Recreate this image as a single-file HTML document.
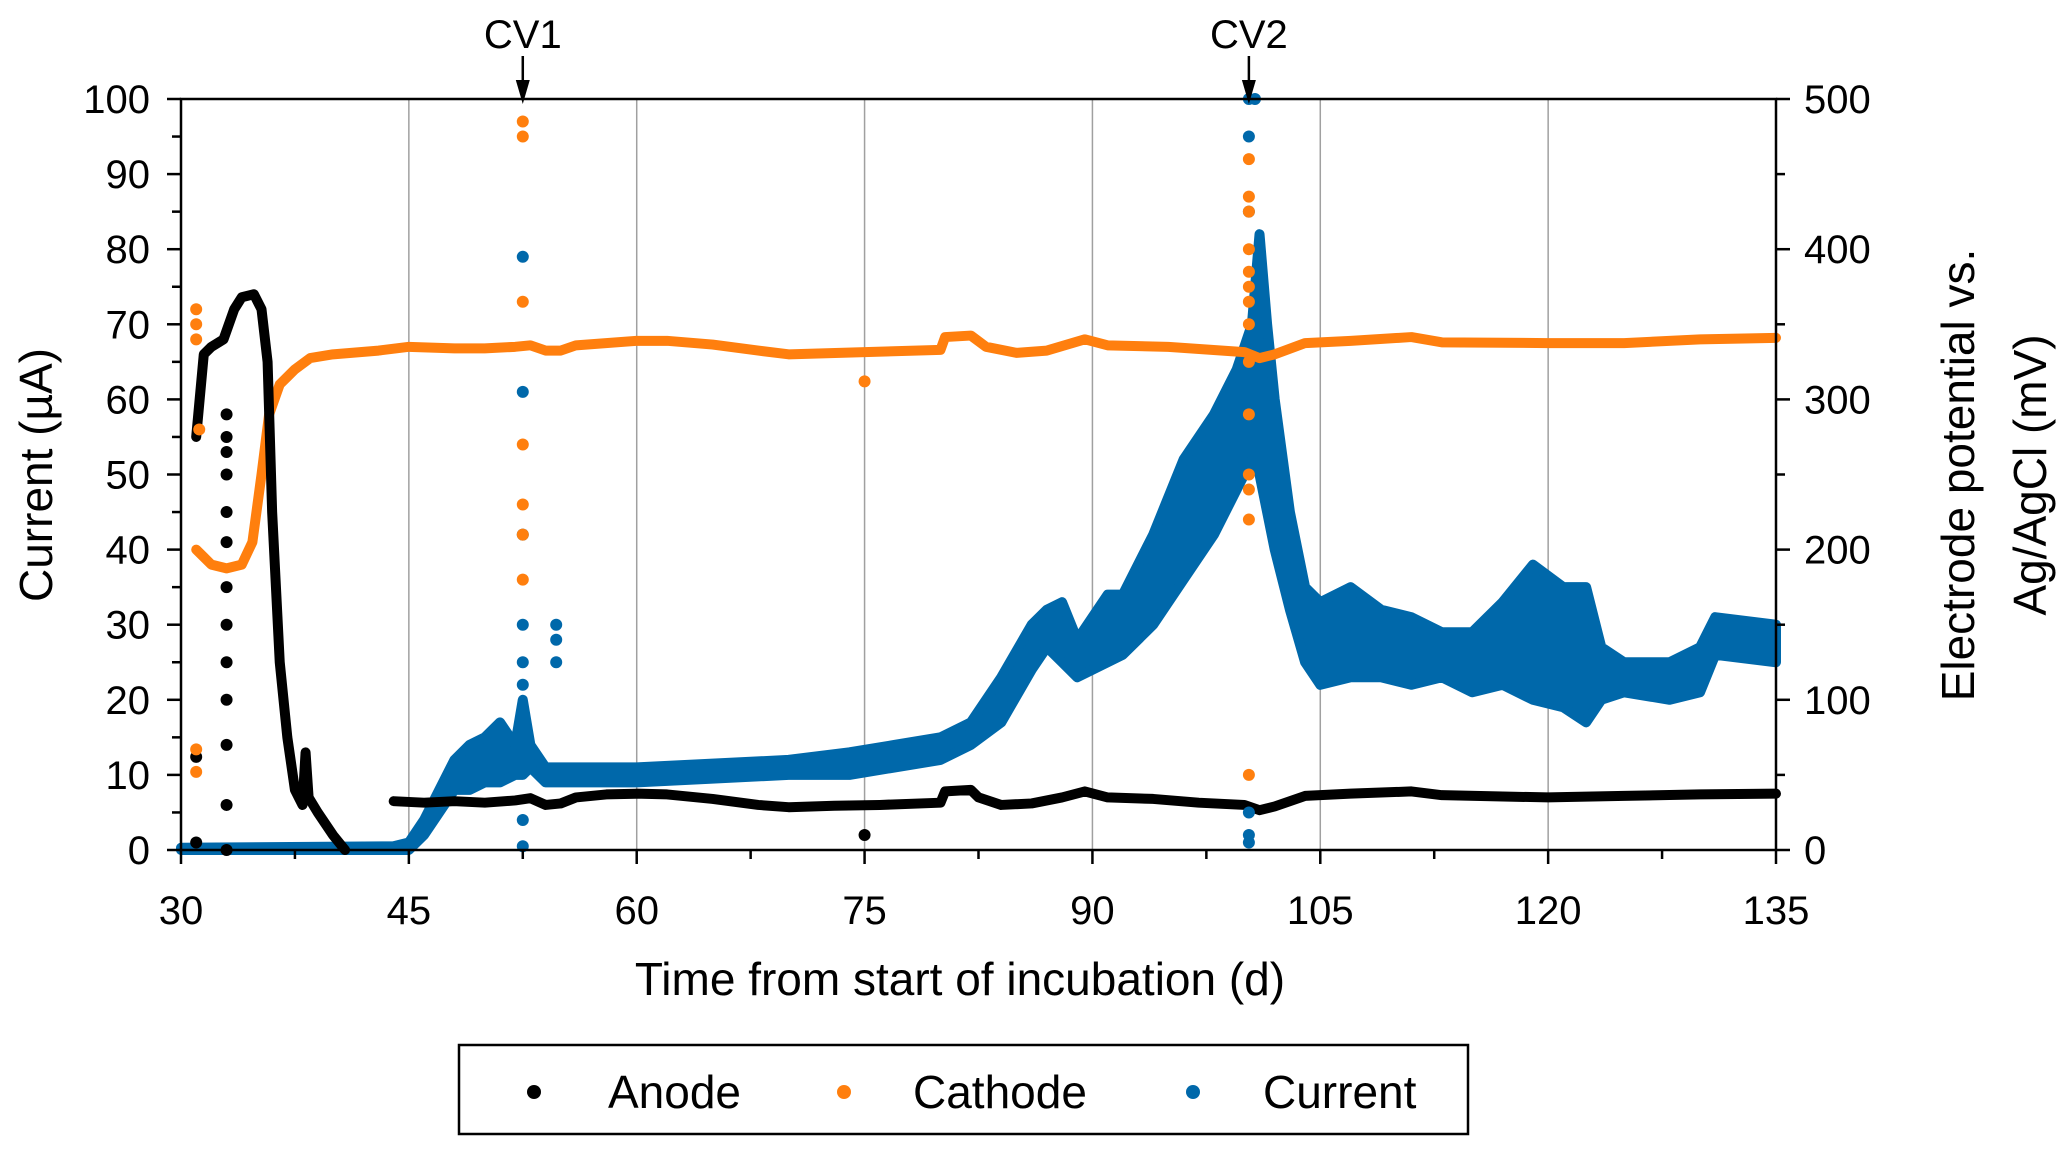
<!DOCTYPE html>
<html><head><meta charset="utf-8"><style>
html,body{margin:0;padding:0;background:#fff;}
svg{display:block;font-family:"Liberation Sans",sans-serif;}
</style></head><body>
<svg id="chart" width="2067" height="1149" viewBox="0 0 2067 1149" xmlns="http://www.w3.org/2000/svg">
<g id="grid"></g>
<g id="series"></g>
<g id="axes"></g>
<text x="960" y="995" font-size="46" text-anchor="middle">Time from start of incubation (d)</text>
<text transform="translate(52,475) rotate(-90)" font-size="46" text-anchor="middle">Current (µA)</text>
<text transform="translate(1974,475) rotate(-90)" font-size="46" text-anchor="middle">Electrode potential vs.</text>
<text transform="translate(2046,475) rotate(-90)" font-size="46" text-anchor="middle">Ag/AgCl (mV)</text>
<g id="legend">
<rect x="459" y="1045" width="1009" height="89" fill="#fff" stroke="#000" stroke-width="2.5"/>
<circle cx="534" cy="1092" r="7" fill="#000"/>
<text x="608" y="1108" font-size="46">Anode</text>
<circle cx="844" cy="1092" r="7" fill="#ff7f0e"/>
<text x="913" y="1108" font-size="46">Cathode</text>
<circle cx="1193" cy="1092" r="7" fill="#0068aa"/>
<text x="1263" y="1108" font-size="46">Current</text>
</g>
</svg>
<script>
// ---- data ----
const anodeDays=[31,31.5,32,32.8,33.5,34,34.8,35.3,35.7,36,36.5,37,37.5,38,38.2,38.4,39,40,40.8];
const anodeVals=[275,330,335,340,360,368,370,360,325,225,125,75,40,30,65,35,25,10,0];
const anodeDays2=[44,46,48,50,52,53,54,55,56,58,60,62,65,68,70,73,76,80,80.3,82,82.5,84,86,88,89.5,91,94,97,100,101,102,103,104,107,111,113,120,125,130,135];
const anodeVals2=[32.5,31.5,32.5,31.5,33,34.5,30,31,35,37,37.5,37,34,30,28.5,29.5,30,31.5,39,40,35,30,31,35,39,35,34,31.5,30,26.5,29,32.5,36,37.5,39,36.5,35,36,37,37.5];
const anodeStrayDays=[33,33,33,33,33,33,33,33,33,33,33,33,33,31,31,75];
const anodeStrayVals=[290,275,265,250,225,205,175,150,125,100,70,30,0,62,5,10];
const cathodeDays=[31,31.5,32,33,34,34.7,35.3,35.8,36.5,37.5,38.5,40,43,45,48,50,52,53,54,55,56,60,62,65,68,70,75,80,80.3,82,83,85,87,89.5,91,95,100,101,102,104,107,111,113,120,125,130,135];
const cathodeVals=[200,195,190,187.5,190,205,250,290,310,320,327.5,330,332.5,335,334,334,335,336,332.5,332.5,336,339,339,336.5,332.5,330,331.5,333,341.5,342.5,335,331,332.5,340,336,335,331.5,327.5,330,337.5,339,341.5,338,337.5,337.5,340,341];
const cathodeStrayDays=[31,31,31,31.2,31,31,52.5,52.5,52.5,52.5,52.5,52.5,52.5,75,100.3,100.3,100.3,100.3,100.3,100.3,100.3,100.3,100.3,100.3,100.3,100.3,100.3,100.3];
const cathodeStrayVals=[360,350,340,280,67,52,485,475,365,270,230,210,180,312,460,435,425,400,385,375,365,350,325,290,250,240,220,50];
const currentDays=[30,44,45,46,47,48,49,50,51,52,52.5,53,54,55,56,60,65,70,74,77,80,82,84,86,87,88,89,90,91,92,94,96,98,99.5,100.5,101,101.5,102,103,104,105,107,109,111,113,115,117,119,121,122.5,123.5,125,128,130,131,135];
const currentLow=[0,0,0,2,5,8,8,9,9,10,10,11,9,9,9,9,9.5,10,10,11,12,14,17,24,27,25,23,24,25,26,30,36,42,48,52,50,45,40,32,25,22,23,23,22,23,21,22,20,19,17,20,21,20,21,26,25];
const currentHigh=[0.3,0.5,1,4,8,12,14,15,17,14,20,14,11,11,11,11,11.5,12,13,14,15,17,23,30,32,33,28,31,34,34,42,52,58,64,70,82,70,60,45,35,33,35,32,31,29,29,33,38,35,35,27,25,25,27,31,30];
const currentStrayDays=[52.5,52.5,52.5,52.5,52.5,52.5,52.5,52.5,54.7,54.7,54.7,100.3,100.3,100.3,100.3,100.3,100.3,100.7];
const currentStrayVals=[79,61,42,30,25,22,4,0.5,30,28,25,100,95,85,5,2,1,100];
const xTicks=[30,45,60,75,90,105,120,135];
const yTicks=[0,10,20,30,40,50,60,70,80,90,100];
const y2Ticks=[0,100,200,300,400,500];
const cvDays=[52.5,100.3];
const cvLabels=["CV1","CV2"];
// ---- scales ----
const L=181,R=1776,T=99,B=850;
const X=d=>L+(d-30)/(135-30)*(R-L);
const Y=v=>B-v/100*(B-T);
const Y2=v=>B-v/500*(B-T);
const NS="http://www.w3.org/2000/svg";
function mk(tag,attrs,parent){const e=document.createElementNS(NS,tag);for(const k in attrs)e.setAttribute(k,attrs[k]);parent.appendChild(e);return e;}
const grid=document.getElementById('grid'),ser=document.getElementById('series'),ax=document.getElementById('axes');
xTicks.slice(1,-1).forEach(d=>{const g=mk('line',{x1:X(d),x2:X(d),y1:T,y2:B,stroke:'#a0a0a0','stroke-width':1.5},grid);

});
let pts=currentDays.map((d,i)=>X(d)+','+Y(currentHigh[i])).concat(currentDays.map((d,i)=>X(d)+','+Y(currentLow[i])).reverse());
const band=mk('polygon',{points:pts.join(' '),fill:'#0068aa',stroke:'#0068aa','stroke-width':10,'stroke-linejoin':'round'},ser);


function line(days,vals,color,name,yf){const p=mk('polyline',{points:days.map((d,i)=>X(d)+','+yf(vals[i])).join(' '),fill:'none',stroke:color,'stroke-width':10,'stroke-linejoin':'round','stroke-linecap':'round'},ser);

}
function dots(days,vals,color,name,yf){days.forEach((d,i)=>{const c=mk('circle',{cx:X(d),cy:yf(vals[i]),r:6,fill:color},ser);

});}
line(cathodeDays,cathodeVals,'#ff7f0e','cathode-series',Y2);
line(anodeDays,anodeVals,'#000','anode-series',Y2);
line(anodeDays2,anodeVals2,'#000','anode-series-late',Y2);
dots(anodeStrayDays,anodeStrayVals,'#000','anode-point',Y2);
dots(currentStrayDays,currentStrayVals,'#0068aa','current-point',Y);
dots(cathodeStrayDays,cathodeStrayVals,'#ff7f0e','cathode-point',Y2);
const frame=mk('rect',{x:L,y:T,width:R-L,height:B-T,fill:'none',stroke:'#000','stroke-width':2.5},ax);


for(let d=30;d<=135;d+=7.5){const maj=(d-30)%15===0;const t=mk('line',{x1:X(d),x2:X(d),y1:B,y2:B+(maj?14:9),stroke:'#000','stroke-width':2.5},ax);

}
xTicks.forEach(d=>{const t=mk('text',{x:X(d),y:924,'font-size':40,'text-anchor':'middle'},ax);t.textContent=d;

});
for(let v=0;v<=100;v+=5){const maj=v%10===0;const t=mk('line',{x1:L-(maj?14:9),x2:L,y1:Y(v),y2:Y(v),stroke:'#000','stroke-width':2.5},ax);

}
yTicks.forEach(v=>{const t=mk('text',{x:150,y:Y(v)+14,'font-size':40,'text-anchor':'end'},ax);t.textContent=v;

});
for(let v=0;v<=500;v+=50){const maj=v%100===0;const t=mk('line',{x1:R,x2:R+(maj?14:9),y1:Y2(v),y2:Y2(v),stroke:'#000','stroke-width':2.5},ax);

}
y2Ticks.forEach(v=>{const t=mk('text',{x:1804,y:Y2(v)+14,'font-size':40,'text-anchor':'start'},ax);t.textContent=v;

});
cvDays.forEach((d,i)=>{const x=X(d);
const t=mk('text',{x:x,y:48,'font-size':40,'text-anchor':'middle'},ax);t.textContent=cvLabels[i];


const l=mk('line',{x1:x,x2:x,y1:56,y2:88,stroke:'#000','stroke-width':2.5},ax);


const h=mk('polygon',{points:`${x-7},80 ${x+7},80 ${x},104`,fill:'#000'},ax);

});
</script>
</body></html>
